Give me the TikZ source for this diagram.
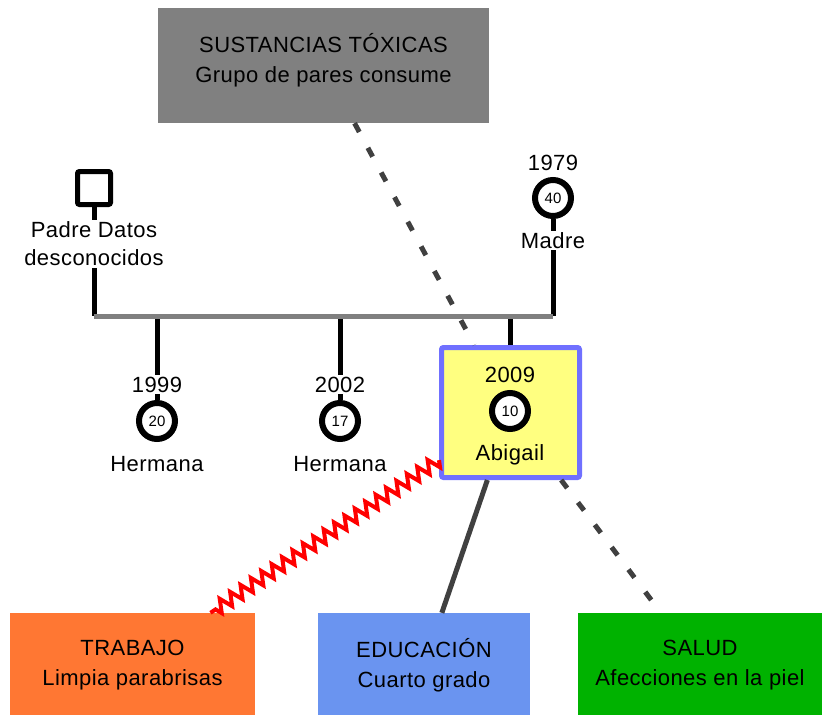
\documentclass[tikz,border=0pt]{standalone}
\usepackage{fontspec}
\setmainfont{Liberation Sans}[LetterSpace=2]
\usetikzlibrary{positioning}
\usetikzlibrary{decorations.pathmorphing}
\definecolor{toxgray}{HTML}{808080}
\definecolor{bargray}{HTML}{808080}
\definecolor{linkgray}{HTML}{404040}
\definecolor{trabajo}{HTML}{FF7733}
\definecolor{educ}{HTML}{6A94F0}
\definecolor{salud}{HTML}{00B200}
\definecolor{abiyellow}{HTML}{FFFF80}
\definecolor{abiblue}{HTML}{7070FF}

\begin{document}
\begin{tikzpicture}[x=1pt,y=-1pt,font=\fontsize{22}{30}\selectfont,
panel/.style={inner sep=0pt,align=center},
ring/.style={circle,draw,fill=white,line width=6pt,minimum size=36pt,inner sep=0pt,font=\fontsize{15}{15}\selectfont},
lbl/.style={fill=white,inner sep=1.5pt},
tie/.style={line width=5pt},
dashlink/.style={line width=5pt,draw=linkgray,dash pattern=on 10pt off 18pt}]
\useasboundingbox (0,0) rectangle (825,715);
\node[panel,fill=toxgray,minimum width=331pt,minimum height=115pt,label={[panel,yshift=5pt]center:SUSTANCIAS TÓXICAS\\Grupo de pares consume}] (tox) at (323.5,65.5) {};
\node[panel,fill=trabajo,minimum width=245pt,minimum height=104pt] (trab) at (132.5,665) {TRABAJO\\Limpia parabrisas};
\node[panel,fill=educ,minimum width=212pt,minimum height=104pt] (edu) at (424,665) {EDUCACIÓN\\Cuarto grado};
\node[panel,fill=salud,minimum width=244pt,minimum height=104pt] (salud) at (700,665) {SALUD\\Afecciones en la piel};
\node[draw,line width=5pt,minimum size=33pt,rounded corners=2pt] (padre) at (94,188) {};
\node[ring] (m40) at (553,198) {40};
\node[ring] (h20) at (157,421) {20};
\node[ring] (h17) at (340,421) {17};
\node[draw=abiblue,fill=abiyellow,line width=5pt,minimum width=138pt,minimum height=130pt,rounded corners=2pt] (abi) at (510.5,412.5) {};
\node[ring] (a10) at (510,411) {10};
\coordinate (barL) at (94,316);
\coordinate (barR) at (553,316);
\draw[tie] (padre.south) -- (barL);
\draw[tie] (m40.south) -- (barR);
\draw[tie] (h20.north) -- (h20 |- barL);
\draw[tie] (h17.north) -- (h17 |- barL);
\draw[tie] (abi.north) -- (abi.north |- barL);
\draw[tie,draw=bargray] (barL) -- (barR);
\node[lbl,anchor=base] (y1979) at (553,170) {1979};
\node[lbl,anchor=base] (madre) at (553,248) {Madre};
\node[lbl,anchor=base] (y1999) at (157,392) {1999};
\node[lbl,anchor=base] (y2002) at (340,392) {2002};
\node[anchor=base] (her1) at (157,471) {Hermana};
\node[anchor=base] (her2) at (340,471) {Hermana};
\node[anchor=base] (y2009) at (510,382) {2009};
\node[anchor=base] (abigail) at (510,460) {Abigail};
\node[lbl,align=center,font=\fontsize{22}{28}\selectfont] (padretxt) at (94,244) {Padre Datos\\desconocidos};
\draw[dashlink] (tox) -- (abi);
\draw[tie,draw=linkgray] (abi) -- (edu);
\draw[dashlink] (abi) -- (salud);
\draw[red,line width=4pt,decorate,decoration={zigzag,segment length=12.5pt,amplitude=6.5pt}] (abi) -- (trab);
\end{tikzpicture}
\end{document}
